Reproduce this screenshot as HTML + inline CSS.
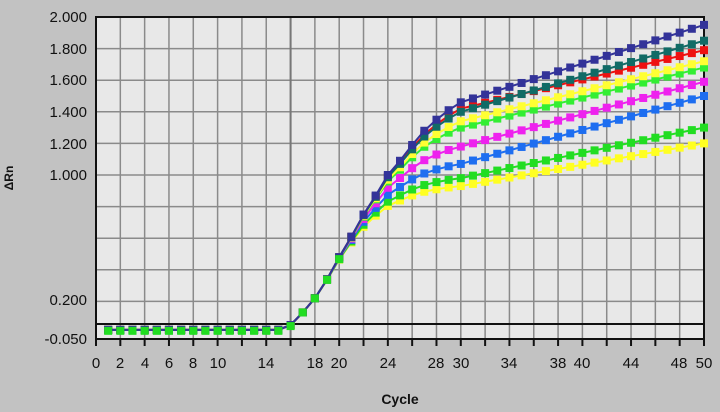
<!DOCTYPE html>
<html><head><meta charset="utf-8"><style>
html,body{margin:0;padding:0;background:#c0c0c0;}
svg{display:block;font-family:"Liberation Sans",Arial,sans-serif;}
</style></head><body>
<svg id="s" width="720" height="412" viewBox="0 0 720 412">
<rect width="720" height="412" fill="#c2c2c2"/>
<rect x="96" y="17" width="608" height="322" fill="#e8e8e8"/>
<g id="grid" stroke="#8a8a8a" stroke-width="1.5"></g>
<line x1="290.6" y1="17" x2="290.6" y2="339" stroke="#777" stroke-width="2"/>
<rect x="96" y="17" width="608" height="322" fill="none" stroke="#111" stroke-width="2"/>
<line x1="96" y1="324" x2="704" y2="324" stroke="#111" stroke-width="2"/>
<g id="ser"></g>
<g font-size="15" fill="#111" text-anchor="end">
<text x="87" y="22">2.000</text><text x="87" y="54">1.800</text><text x="87" y="85">1.600</text>
<text x="87" y="117">1.400</text><text x="87" y="149">1.200</text><text x="87" y="180">1.000</text>
<text x="87" y="305">0.200</text><text x="87" y="344">-0.050</text>
</g>
<g font-size="15" fill="#111" text-anchor="middle" id="xl">
<text x="96" y="368">0</text><text x="120" y="368">2</text><text x="145" y="368">4</text><text x="169" y="368">6</text><text x="193" y="368">8</text><text x="218" y="368">10</text><text x="266" y="368">14</text><text x="315" y="368">18</text><text x="339" y="368">20</text><text x="388" y="368">24</text><text x="436" y="368">28</text><text x="461" y="368">30</text><text x="509" y="368">34</text><text x="558" y="368">38</text><text x="582" y="368">40</text><text x="631" y="368">44</text><text x="679" y="368">48</text><text x="704" y="368">50</text>
</g>
<text x="400" y="404" font-size="14" font-weight="bold" text-anchor="middle" fill="#111">Cycle</text>
<text transform="translate(13,178) rotate(-90)" font-size="12" font-weight="bold" text-anchor="middle" fill="#111">ΔRn</text>
</svg>
<script>
var NS="http://www.w3.org/2000/svg";
function X(c){return 96+c*12.16;}
function Y(v){return 17+(2-v)*158;}
var g=document.getElementById('grid');
for(var c=2;c<50;c+=2){var l=document.createElementNS(NS,'line');l.setAttribute('x1',X(c));l.setAttribute('x2',X(c));l.setAttribute('y1',17);l.setAttribute('y2',339);g.appendChild(l);}
[1.8,1.6,1.4,1.2,1.0,0.8,0.6,0.4,0.2].forEach(function(v){var l=document.createElementNS(NS,'line');l.setAttribute('x1',96);l.setAttribute('x2',704);l.setAttribute('y1',Y(v));l.setAttribute('y2',Y(v));g.appendChild(l);});
for(var c=0;c<=50;c+=2){var l=document.createElementNS(NS,'line');l.setAttribute('x1',X(c));l.setAttribute('x2',X(c));l.setAttribute('y1',339);l.setAttribute('y2',346);l.setAttribute('stroke','#111');l.setAttribute('stroke-width','2');document.getElementById('s').appendChild(l);}
var T={15:0.02,16:0.05,17:0.13,18:0.22,19:0.34,20:0.48,21:0.61,22:0.75,23:0.87,24:1.0,25:1.09,26:1.19,27:1.28,28:1.35,29:1.41,30:1.46};
function tmpl(c){return c<15?0.02:T[c];}
function sat(t,P){if(t<=0.03)return t;return t/Math.pow(1+Math.pow(t/P,3),1/3);}
var S=[["#ffff22",0.93,1.20],["#22dd22",0.98,1.30],["#1e6ef0",1.07,1.50],["#ee22ee",1.18,1.59],["#33ee33",1.30,1.68],["#ffff33",1.34,1.72],["#ee1111",1.42,1.79],["#116b66",1.40,1.85],["#333399",1.46,1.95]];
var sg=document.getElementById('ser');
function mk(x,y,col){var r=document.createElementNS(NS,'rect');r.setAttribute('x',x-4);r.setAttribute('y',y-4);r.setAttribute('width',8);r.setAttribute('height',8);r.setAttribute('fill',col);sg.appendChild(r);}
var greenPts=null;
S.forEach(function(s,idx){
 var P;
 if(s[1]>=1.45)P=1e6;else{var lo=s[1],hi=20;for(var i=0;i<60;i++){var m=(lo+hi)/2;if(sat(1.46,m)>s[1])hi=m;else lo=m;}P=(lo+hi)/2;}
 var k=(s[2]-s[1])/20,pts=[];
 for(var c=1;c<=50;c++){
  var v=c<=30?sat(tmpl(c),P):s[1]+k*(c-30);
  pts.push([X(c),Y(v)]);
 }
 if(idx==1)greenPts=pts;
 var p=document.createElementNS(NS,'polyline');
 p.setAttribute('points',pts.map(function(q){return q.join(',')}).join(' '));
 p.setAttribute('fill','none');p.setAttribute('stroke',s[0]);p.setAttribute('stroke-width','2');sg.appendChild(p);
 pts.forEach(function(q){mk(q[0],q[1],s[0]);});
});
for(var i=0;i<20;i++){mk(greenPts[i][0],greenPts[i][1]+(i<16?1:0),"#22dd22");}
</script>
</body></html>
